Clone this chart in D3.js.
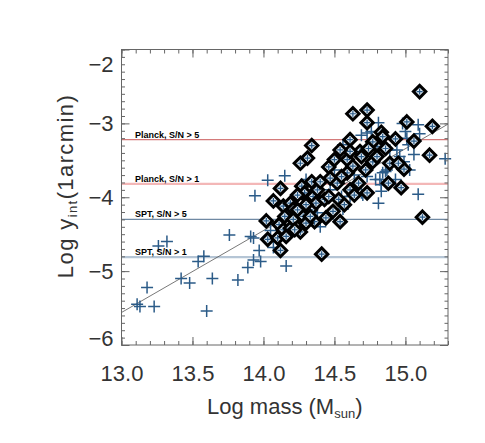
<!DOCTYPE html>
<html>
<head>
<meta charset="utf-8">
<title></title>
<script src="https://cdn.jsdelivr.net/npm/d3@7"></script>
<style>
body { margin: 0; background: #fff; }
.axis text { font-family: "Liberation Sans", sans-serif; font-size: 22px; fill: #333; }
.axis line { stroke: #666; }
.lab { font-family: "Liberation Sans", sans-serif; font-size: 9px; font-weight: bold; fill: #000; }
.title { font-family: "Liberation Sans", sans-serif; font-size: 22px; fill: #333; }
</style>
</head>
<body>
<script>
// all clusters (blue crosses)
var crossMass = [13.11,13.13,13.18,13.23,13.26,13.32,13.42,13.48,13.54,13.58,13.60,13.64,13.76,13.82,13.89,13.91,13.93,13.97,13.93,13.98,
  14.05,14.07,14.16,13.94,14.03,14.15,15.28,15.09,15.09,15.10,14.81,15.06,14.81,14.56,14.69,14.98,15.00,14.96,14.84,14.87,
  14.83,14.82,14.94,14.99,15.02,15.01,14.76,14.56,14.55,14.61,14.69,14.86,14.83,14.40,14.30,14.40,14.38,14.70,14.73,14.73,
  14.93,15.03,14.47,14.50,14.64,14.79,14.89];
var crossY = [-5.45,-5.48,-5.22,-5.48,-4.66,-4.60,-5.10,-5.16,-4.87,-4.80,-5.54,-5.10,-4.51,-5.12,-4.95,-4.53,-4.55,-4.72,-4.85,-4.87,
  -4.45,-4.68,-4.93,-3.98,-3.77,-3.71,-3.48,-3.96,-3.02,-3.14,-2.99,-3.42,-4.08,-3.29,-3.16,-3.00,-3.11,-3.45,-3.67,-3.63,
  -3.92,-3.76,-3.36,-3.52,-3.29,-3.20,-3.11,-4.16,-3.99,-3.99,-3.94,-3.65,-3.83,-4.40,-3.76,-4.03,-4.21,-3.97,-3.72,-3.13,
  -3.76,-3.63,-3.90,-3.63,-3.70,-3.76,-3.36];

// detected clusters (black diamonds)
var detMass = [15.10,14.63,14.73,14.73,15.01,15.19,15.06,15.17,14.61,14.34,14.31,14.26,14.46,14.47,14.12,14.07,14.02,14.03,14.12,14.41,
  15.12,14.88,14.97,14.73,14.83,14.93,14.99,14.89,14.80,14.68,14.59,14.63,14.77,14.86,14.72,14.95,14.84,14.77,14.74,14.69,
  14.61,14.80,14.67,14.61,14.54,14.49,14.59,14.52,14.14,14.19,14.21,14.11,14.15,14.10,14.14,14.19,14.26,14.27,14.28,14.21,
  14.27,14.29,14.32,14.35,14.38,14.34,14.40,14.37,14.43,14.46,14.36,14.44,14.33,14.30,14.22,14.16,14.33,14.24,14.30,14.24,
  14.53,14.57,14.54,14.50,14.55,14.64];
var detY = [-2.57,-2.87,-2.82,-2.99,-2.98,-3.04,-3.24,-3.43,-3.22,-3.30,-3.47,-3.54,-3.59,-3.74,-3.88,-4.05,-4.32,-4.57,-4.72,-4.77,
  -4.27,-3.81,-3.87,-3.94,-3.12,-3.21,-3.62,-3.54,-3.31,-3.38,-3.49,-3.58,-3.52,-3.34,-3.63,-3.54,-3.18,-3.25,-3.34,-3.45,
  -3.38,-3.45,-3.81,-3.90,-4.33,-4.19,-3.67,-3.81,-4.12,-4.08,-4.16,-4.37,-4.26,-4.55,-4.44,-4.42,-4.47,-4.30,-4.26,-4.30,
  -3.85,-3.94,-4.03,-3.99,-3.90,-3.79,-3.79,-4.08,-4.03,-3.99,-4.33,-4.28,-4.17,-4.35,-4.44,-4.53,-4.26,-3.97,-4.10,-4.17,
  -4.03,-4.10,-3.36,-3.49,-3.72,-3.97];

// detection thresholds
var threshNames = ["Planck, S/N > 5", "Planck, S/N > 1", "SPT, S/N > 5", "SPT, S/N > 1"];
var threshVals = [-3.22, -3.82, -4.30, -4.81];
var threshColors = ["#d47a7a", "#f3b7b7", "#6f89a3", "#b5c5d5"];
var threshWidths = [1.2, 2.2, 1.2, 2.2];

// fitted relation
var fitMass = [13.0, 15.3];
var fitY = [-5.56, -3.01];

var xTicks = [13.0, 13.5, 14.0, 14.5, 15.0];
var yTicks = [-6, -5, -4, -3, -2];

var W = 485, H = 443;
var L = 121.5, R = 448, T = 49.5, B = 345;

var svg = d3.select("body").append("svg").attr("width", W).attr("height", H);

var x = d3.scaleLinear().domain([13.0, 15.3]).range([L, R]);
var y = d3.scaleLinear().domain([-6, -2]).range([B, T]);

// threshold lines
svg.selectAll("line.th").data(threshVals).enter().append("line")
  .attr("class", "th")
  .attr("x1", L).attr("x2", R)
  .attr("y1", function(d){ return y(d); }).attr("y2", function(d){ return y(d); })
  .attr("stroke", function(d,i){ return threshColors[i]; })
  .attr("stroke-width", function(d,i){ return threshWidths[i]; });

// fit line
svg.append("line")
  .attr("x1", x(fitMass[0])).attr("y1", y(fitY[0]))
  .attr("x2", x(fitMass[1])).attr("y2", y(fitY[1]))
  .attr("stroke", "#555").attr("stroke-width", 0.8);

// crosses
var cs = 6;
var cr = svg.append("g").selectAll("g").data(crossMass).enter().append("g")
  .attr("transform", function(d,i){ return "translate(" + x(d) + "," + y(crossY[i]) + ")"; });
cr.append("path").attr("d", "M" + (-cs) + ",0H" + cs + "M0," + (-cs) + "V" + cs)
  .attr("stroke", "#2b5b88").attr("stroke-width", 1.5).attr("fill", "none");

// diamonds
var ds = 6.2;
var dm = svg.append("g").selectAll("g").data(detMass).enter().append("g")
  .attr("transform", function(d,i){ return "translate(" + x(d) + "," + y(detY[i]) + ")"; });
dm.append("path").attr("d", "M0," + (-ds) + "L" + ds + ",0L0," + ds + "L" + (-ds) + ",0Z")
  .attr("fill", "#dde8f1").attr("stroke", "#000").attr("stroke-width", 3).attr("stroke-linejoin", "miter");
dm.append("path").attr("d", "M-3,0H3M0,-3V3")
  .attr("stroke", "#2b5b88").attr("stroke-width", 1.2);

// labels on thresholds
svg.selectAll("text.lab").data(threshNames).enter().append("text")
  .attr("class", "lab")
  .attr("x", 135)
  .attr("y", function(d,i){ return y(threshVals[i]) - 2; })
  .text(function(d){ return d; });

// axes
var xMinor = d3.range(130, 154).map(function(v){ return v / 10; });
var yMinor = d3.range(-60, -19).map(function(v){ return v / 10; });

function addAxis(axis, tr) {
  var g = svg.append("g").attr("class", "axis").attr("transform", tr).call(axis);
  g.select(".domain").remove();
  return g;
}
addAxis(d3.axisBottom(x).tickValues(xMinor).tickSize(-4).tickFormat(""), "translate(0," + B + ")");
addAxis(d3.axisTop(x).tickValues(xMinor).tickSize(-4).tickFormat(""), "translate(0," + T + ")");
addAxis(d3.axisLeft(y).tickValues(yMinor).tickSize(-3.5).tickFormat(""), "translate(" + L + ",0)");
addAxis(d3.axisRight(y).tickValues(yMinor).tickSize(-3.5).tickFormat(""), "translate(" + R + ",0)");

addAxis(d3.axisBottom(x).tickValues(xTicks).tickSize(-8).tickPadding(20).tickFormat(d3.format(".1f")), "translate(0," + B + ")");
addAxis(d3.axisTop(x).tickValues(xTicks).tickSize(-8).tickFormat(""), "translate(0," + T + ")");
var gl = addAxis(d3.axisLeft(y).tickValues(yTicks).tickSize(-8).tickPadding(8)
  .tickFormat(function(d){ return "\u2212" + Math.abs(d); }), "translate(" + L + ",0)");
addAxis(d3.axisRight(y).tickValues(yTicks).tickSize(-8).tickFormat(""), "translate(" + R + ",0)");

// end labels sit inside the frame
gl.selectAll(".tick text").attr("dy", function(d){ return d === -2 ? "1.0em" : (d === -6 ? "0.0em" : "0.32em"); });

// frame
svg.append("rect").attr("x", L).attr("y", T).attr("width", R - L).attr("height", B - T)
  .attr("fill", "none").attr("stroke", "#666").attr("stroke-width", 1);

// titles
var xt = svg.append("text").attr("class", "title").attr("x", (L + R) / 2).attr("y", 414).attr("text-anchor", "middle");
xt.append("tspan").text("Log mass (M");
xt.append("tspan").attr("font-size", "13px").attr("dy", 4).text("sun");
xt.append("tspan").attr("dy", -4).text(")");

var yt = svg.append("text").attr("class", "title")
  .attr("transform", "translate(73,186) rotate(-90)").attr("text-anchor", "middle")
  .attr("letter-spacing", "1.4px");
yt.append("tspan").text("Log  y");
yt.append("tspan").attr("font-size", "13px").attr("dy", 4).text("int");
yt.append("tspan").attr("dy", -4).text("(1arcmin)");
</script>
</body>
</html>
